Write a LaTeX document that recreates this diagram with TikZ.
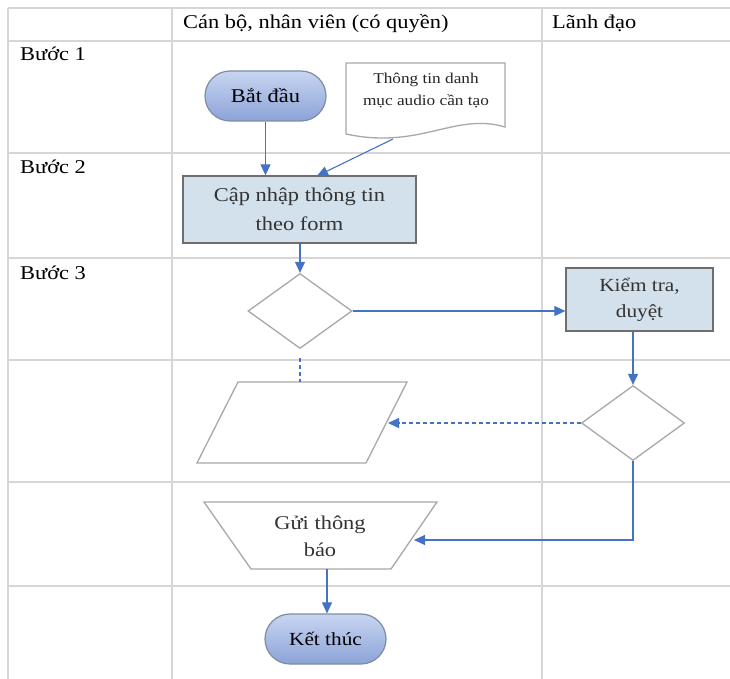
\documentclass[tikz,border=0pt]{standalone}
\usepackage{fontspec}
\setmainfont{Liberation Serif}[FakeStretch=1.15]
\usetikzlibrary{shapes.geometric,arrows.meta}
\definecolor{tblline}{HTML}{D6D6D6}
\definecolor{shpline}{HTML}{A8A8A8}
\definecolor{boxline}{HTML}{6E6E6E}
\definecolor{boxfill}{HTML}{D2E1EC}
\definecolor{arrblue}{HTML}{4472C4}
\definecolor{stadtop}{HTML}{C8D5F1}
\definecolor{stadbot}{HTML}{8CA3D8}
\definecolor{stadline}{HTML}{7D8CA3}
\definecolor{txtgray}{HTML}{333333}
\tikzset{
  tbl/.style={draw=tblline, line width=1.3pt},
  celltxt/.style={inner sep=0pt, anchor=base west, font=\fontsize{19.5}{24}\selectfont, text=black},
  stadium/.style={rectangle, rounded corners=25pt, minimum width=121pt, minimum height=50pt,
    top color=stadtop, bottom color=stadbot, draw=stadline, line width=1.2pt,
    font=\fontsize{19.5}{24}\selectfont, text=black},
  procbox/.style={rectangle, fill=boxfill, draw=boxline, line width=1.3pt, align=center,
    text=txtgray, font=\fontsize{19.5}{28.5}\selectfont},
  decbox/.style={diamond, draw=shpline, line width=1.3pt, inner sep=0pt, fill=white},
  shp/.style={draw=shpline, line width=1.3pt, fill=white},
  arr/.style={draw=arrblue, line width=1.1pt, -{Triangle[length=11pt,width=10pt]}},
  darr/.style={draw=arrblue, line width=1.1pt, dash pattern=on 4pt off 3pt, -{Triangle[length=11pt,width=10pt]}},
  dline/.style={draw=arrblue, line width=1.1pt, dash pattern=on 4pt off 3pt},
}
\begin{document}
\begin{tikzpicture}[x=1pt,y=-1pt]
\useasboundingbox[fill=white] (0,0) rectangle (730,679);
% table
\foreach \yy in {8,41,153,258,360,482,586} {\draw[tbl] (8,\yy) -- (730,\yy);}
\foreach \xx in {8,172,542} {\draw[tbl] (\xx,8) -- (\xx,679);}
\node[celltxt] (h1) at (183,29) {Cán bộ, nhân viên (có quyền)};
\node[celltxt] (h2) at (552,29) {Lãnh đạo};
\node[celltxt] (s1) at (20,61) {Bước 1};
\node[celltxt] (s2) at (20,174) {Bước 2};
\node[celltxt] (s3) at (20,279) {Bước 3};

% document shape
\draw[shp] (346,134) -- (346,63) -- (505,63) -- (505,127)
  .. controls (455,112) and (420,150) .. cycle;
\node[align=center, inner sep=0pt, text=black!85, font=\fontsize{15}{22}\selectfont] (doc) at (426,91) {Thông tin danh\\mục audio cần tạo};
\coordinate (docb) at (393,139);

% nodes
\node[stadium] (start) at (265.5,96) {Bắt đầu};
\node[procbox, minimum width=233pt, minimum height=67pt] (upd) at (299.5,209.5) {Cập nhập thông tin\\theo form};
\coordinate (updin) at (317,176);
\node[decbox, minimum width=104pt, minimum height=75pt] (dec1) at (300,311) {};
\node[procbox, minimum width=147pt, minimum height=63pt, font=\fontsize{18.5}{26}\selectfont] (chk) at (639.5,299.5) {Kiểm tra,\\duyệt};
\node[decbox, minimum width=103pt, minimum height=75pt] (dec2) at (633,423) {};

% parallelogram
\coordinate (pTL) at (238,382);
\coordinate (pTR) at (407,382);
\coordinate (pBR) at (366,463);
\coordinate (pBL) at (197,463);
\draw[shp] (pTL) -- (pTR) -- (pBR) -- (pBL) -- cycle;
\coordinate (ptop) at (300,382);
\coordinate (pright) at (388,423);
\coordinate (dstart) at (300,358);

% trapezoid
\draw[shp] (204,502) -- (437,502) -- (391,569) -- (251,569) -- cycle;
\node[align=center, inner sep=0pt, text=txtgray, font=\fontsize{19.5}{27}\selectfont] (send) at (320,536) {Gửi thông\\báo};
\coordinate (gR) at (414,540);
\coordinate (gB) at (327,569);

\node[stadium, minimum width=121pt, font=\fontsize{18.5}{24}\selectfont] (end) at (325.5,639) {Kết thúc};

% connectors
\draw[arr] (start.south) -- (start.south |- upd.north);
\draw[arr] (docb) -- (updin);
\draw[arr] (upd.south -| dec1.north) -- (dec1.north);
\draw[arr] (dec1.east) -- (dec1.east -| chk.west);
\draw[arr] (dec2.north |- chk.south) -- (dec2.north);
\draw[darr] (dec2.west) -- (pright);
\draw[dline] (dstart) -- (ptop);
\draw[arr] (dec2.south) |- (gR);
\draw[arr] (gB) -- (gB |- end.north);
\end{tikzpicture}
\end{document}
